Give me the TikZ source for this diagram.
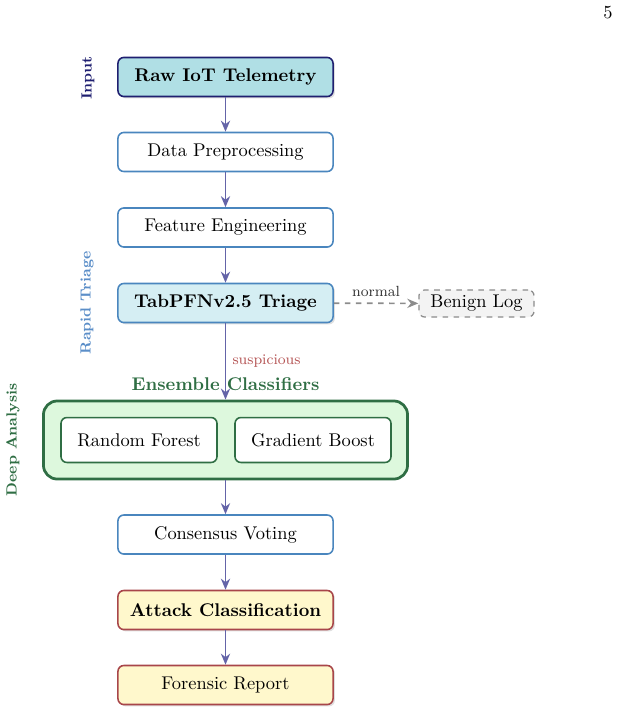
\documentclass[tikz,border=0pt]{standalone}
\usetikzlibrary{arrows.meta,shadows}
\definecolor{inputfill}{HTML}{B0DFE5}
\definecolor{inputdraw}{HTML}{1F1F70}
\definecolor{stepdraw}{HTML}{4A86BE}
\definecolor{triagefill}{HTML}{D5EEF3}
\definecolor{benignfill}{HTML}{F3F3F3}
\definecolor{benigndraw}{HTML}{8C8C8C}
\definecolor{ensfill}{HTML}{DDF8DD}
\definecolor{ensdraw}{HTML}{2F6E44}
\definecolor{outfill}{HTML}{FFF8CC}
\definecolor{outdraw}{HTML}{A8464A}
\definecolor{arrowcol}{HTML}{6464A8}
\definecolor{suspcol}{HTML}{B55555}
\definecolor{rapidcol}{HTML}{5B8EC8}
\tikzset{
  stepbox/.style={draw=stepdraw, fill=white, rounded corners=3.2pt, line width=0.85pt, minimum width=116.8pt, minimum height=21.2pt, inner sep=0pt},
  inputbox/.style={stepbox, draw=inputdraw, fill=inputfill, font=\bfseries, drop shadow={opacity=0.25, shadow xshift=1pt, shadow yshift=-1pt}},
  triagebox/.style={stepbox, fill=triagefill, font=\bfseries, drop shadow={opacity=0.25, shadow xshift=1pt, shadow yshift=-1pt}},
  outbox/.style={stepbox, draw=outdraw, fill=outfill, drop shadow={opacity=0.25, shadow xshift=1pt, shadow yshift=-1pt}},
  benignbox/.style={draw=benigndraw, fill=benignfill, dashed, rounded corners=3.2pt, line width=0.7pt, minimum width=62.5pt, minimum height=14.7pt, inner sep=0pt},
  modelbox/.style={draw=ensdraw, fill=white, rounded corners=3.2pt, line width=0.85pt, minimum width=84.7pt, minimum height=24.4pt, inner sep=0pt},
  ensbox/.style={draw=ensdraw, fill=ensfill, rounded corners=7.5pt, line width=1.5pt, minimum width=197.7pt, minimum height=42.4pt, inner sep=0pt},
  flow/.style={-{Stealth[length=6pt,width=5pt]}, draw=arrowcol, line width=0.95pt},
  sidelabel/.style={rotate=90, font=\footnotesize\bfseries},
}
\begin{document}
\begin{tikzpicture}[x=0.543pt,y=-0.543pt]
\useasboundingbox (0,0) rectangle (618,713);
\node (pg) at (608,13) {5};
% side labels
\node[sidelabel, text=inputdraw] (lin) at (88,78) {Input};
\node[sidelabel, text=rapidcol] (ltr) at (87,303) {Rapid Triage};
\node[sidelabel, text=ensdraw] (lda) at (13,440) {Deep Analysis};
% main boxes
\node[inputbox] (raw) at (225.5,77) {Raw IoT Telemetry};
\node[stepbox] (pre) at (225.5,152) {Data Preprocessing};
\node[stepbox] (feat) at (225.5,227.5) {Feature Engineering};
\node[triagebox] (tri) at (225.5,303) {TabPFNv2.5 Triage};
\node[benignbox] (ben) at (476.5,303.5) {Benign Log};
\node[ensbox] (ens) at (225.5,440) {};
\node[font=\bfseries, text=ensdraw] (enslab) at (225.5,384) {Ensemble Classifiers};
\node[modelbox] (rf) at (139,440) {Random Forest};
\node[modelbox] (gb) at (313,440) {Gradient Boost};
\node[stepbox] (vote) at (225.5,534.5) {Consensus Voting};
\node[outbox, font=\bfseries] (atk) at (225.5,610) {Attack Classification};
\node[outbox] (rep) at (225.5,685) {Forensic Report};
% connectors
\draw[flow] (raw) -- (pre);
\draw[flow] (pre) -- (feat);
\draw[flow] (feat) -- (tri);
\draw[-{Stealth[length=6pt,width=5pt]}, draw=benigndraw, dashed, line width=0.9pt] (tri) -- node[above, font=\footnotesize, text=black!80, pos=0.5] {normal} (ben);
\draw[flow] (tri) -- node[pos=0.5, right, font=\footnotesize, text=suspcol] {suspicious} (ens.north);
\draw[flow] (ens) -- (vote);
\draw[flow] (vote) -- (atk);
\draw[flow] (atk) -- (rep);
\end{tikzpicture}
\end{document}
